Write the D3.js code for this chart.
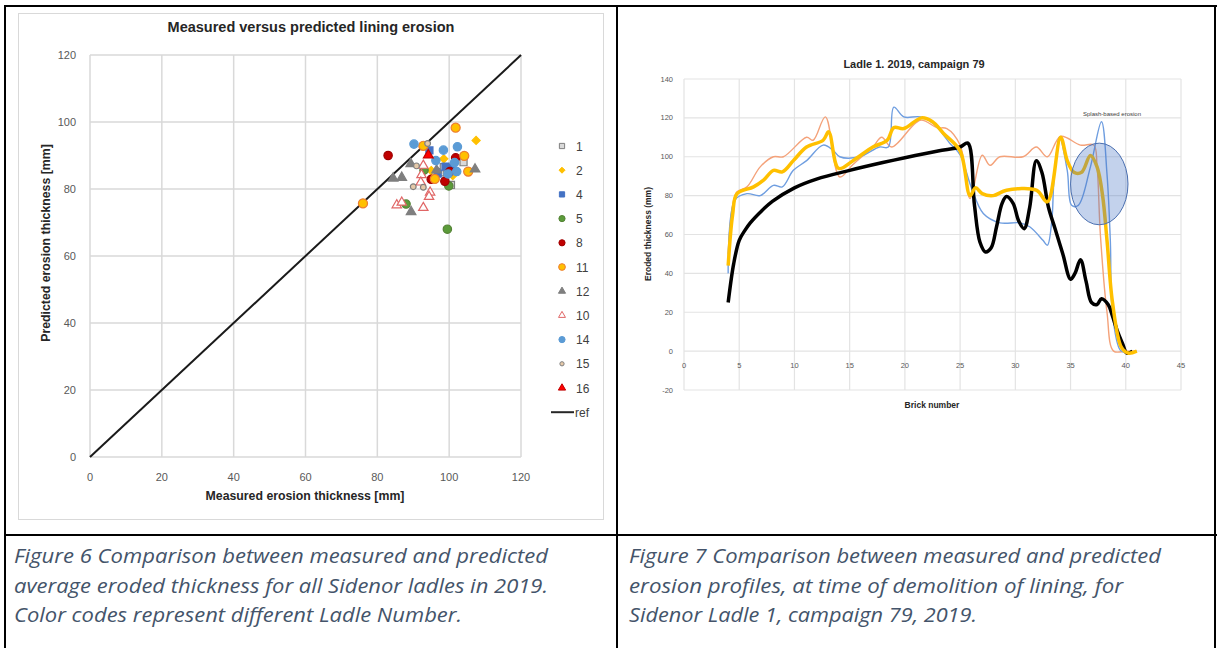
<!DOCTYPE html>
<html>
<head>
<meta charset="utf-8">
<script src="https://cdn.jsdelivr.net/npm/d3@7"></script>
<style>
  body { margin: 0; background: #fff; }
  svg { display: block; font-family: "Liberation Sans", Arial, sans-serif; }
</style>
</head>
<body>
<svg id="page" width="1217" height="648"></svg>
<script>
// ---- Figure 6 data: [measured, predicted] per ladle ----
const ladle1  = [[104, 88], [97.5, 85], [100.5, 81.2], [98.5, 86.5]];
const ladle2  = [[107.5, 94.5], [98.5, 89], [95, 85.5], [101, 84]];
const ladle4  = [[94.5, 91.5], [99, 86.7], [100.5, 86.2], [96.8, 84.6]];
const ladle5  = [[93, 85.6], [99.9, 80.9], [88, 75.5], [99.5, 68]];
const ladle8  = [[83, 90], [101.8, 89.3], [100.2, 85.2], [95, 82.9], [98.8, 82.3]];
const ladle11 = [[101.8, 98.3], [92.8, 92.9], [104.2, 89.9], [105.3, 85.2], [96, 83], [76, 75.7]];
const ladle12 = [[89.3, 87.5], [107.2, 85.9], [84.4, 83.2], [86.8, 83.4], [89.4, 73.2], [96.5, 85.6]];
const ladle10 = [[92.8, 87], [92.3, 84.2], [92.1, 82], [94.7, 79], [94.4, 77.7], [85.4, 75.2], [86.8, 76], [92.8, 74.4]];
const ladle14 = [[90.2, 93.4], [98.4, 91.6], [102.3, 92.6], [101.5, 87.9], [96.3, 88.5], [102.1, 85.2], [99.7, 84.5]];
const ladle15 = [[94, 93.6], [90.9, 86.9], [90, 80.7], [92.8, 80.5]];
const ladle16 = [[94.2, 90.1]];
const refLine = [[0, 0], [120, 120]];
const axisTicks6 = [0, 20, 40, 60, 80, 100, 120];

// ---- Figure 7 data: [brick number, eroded thickness mm] ----
const measuredBlack = [[4, 25], [4.5, 45], [5, 57], [5.5, 62], [6, 66], [7, 72], [8, 77], [10, 84], [12, 88.5],
  [15, 93], [18, 97], [20, 99.5], [23, 103], [25, 105], [25.7, 107], [26.3, 75], [26.8, 56], [27.3, 51],
  [27.8, 53], [28.3, 64], [28.8, 76], [29.2, 79.5], [29.8, 76], [30.3, 67], [30.8, 63], [31.3, 74],
  [31.9, 98], [32.4, 92], [33, 74], [33.6, 63], [34.3, 50], [35, 37], [35.4, 40], [35.9, 47], [36.4, 36],
  [36.9, 25], [37.4, 24], [37.8, 27], [38.4, 24], [38.8, 18], [39.2, 11], [39.7, 4], [40.1, -1], [40.6, 0]];
const predictedYellow = [[4, 44], [4.4, 70], [4.8, 81], [6.3, 84.5], [7.2, 88], [8.1, 93], [8.9, 92.2], [9.9, 98],
  [11.1, 105], [12.6, 108.5], [13.1, 112.8], [14, 94], [15.3, 98], [17.1, 105], [18.4, 108.5], [19, 115],
  [19.9, 114.5], [21.5, 120], [22.5, 118], [23.5, 112], [25, 103], [25.9, 80], [26.4, 84], [27, 81], [28, 80],
  [29.2, 82.8], [31.9, 82.8], [32.9, 76.8], [34.1, 110], [34.7, 98], [35.3, 92], [36, 92], [36.8, 100.7],
  [37.4, 94.8], [37.9, 80], [38.3, 57], [38.8, 25], [39.6, 2], [40.2, -1], [41, 0]];
const predictedOrange = [[4, 50], [4.4, 75], [4.8, 82], [5.7, 84.5], [6.9, 94.8], [8.1, 100], [9, 100], [11.1, 110],
  [11.7, 108.5], [12.8, 120.5], [14.1, 89.6], [15.3, 96], [17.1, 105], [17.9, 110], [18.8, 105], [21.4, 118.8],
  [22.9, 115], [23.8, 114.5], [25, 106], [25.9, 78.5], [27, 100.8], [27.7, 95.6], [28.6, 100], [30.7, 100],
  [31.9, 105], [32.9, 100], [34.1, 110.5], [35.9, 106], [37.1, 106], [37.4, 95], [37.7, 60], [38.3, 20],
  [38.9, 0], [40, 0], [41, 0]];
const predictedBlue = [[4, 40], [4.6, 77.6], [5.7, 81], [6.9, 80], [8.1, 85.3], [8.9, 84.5], [9.9, 93], [11.1, 98],
  [12.6, 106], [13.5, 103.3], [14.1, 100], [15.9, 100], [17.7, 105], [18.5, 105], [19, 125.5], [19.9, 120.5],
  [21.4, 120.5], [22.6, 117], [24.1, 106.7], [25, 101], [26, 84.5], [27.1, 70.8], [28.6, 66], [30.4, 66],
  [31.3, 64], [32.5, 57], [32.9, 54.5], [33.3, 67], [33.5, 88], [34, 110], [34.7, 93], [35.1, 75], [35.7, 75],
  [36.8, 94.8], [37.8, 118], [38.3, 91], [38.6, 57], [38.8, 19], [39.5, 0.5], [40.1, -1], [41, 0]];
const splashZone = { cx: 37.6, cy: 86, rx: 2.6, ry: 21 };
const xTicks7 = [0, 5, 10, 15, 20, 25, 30, 35, 40, 45];
const yTicks7 = [-20, 0, 20, 40, 60, 80, 100, 120, 140];

const captions6 = ["Figure 6 Comparison between measured and predicted",
  "average eroded thickness for all Sidenor ladles in 2019.",
  "Color codes represent different Ladle Number."];
const captions7 = ["Figure 7 Comparison between measured and predicted",
  "erosion profiles, at time of demolition of lining, for",
  "Sidenor Ladle 1, campaign 79, 2019."];

const svg = d3.select("#page");
svg.append("rect").attr("width", 1217).attr("height", 648).attr("fill", "#fff");

// ================= Figure 6 =================
svg.append("rect").attr("x", 18.5).attr("y", 13.5).attr("width", 585).attr("height", 506)
  .attr("fill", "#fff").attr("stroke", "#d9d9d9");

const x6 = d3.scaleLinear().domain([0, 120]).range([90, 521]);
const y6 = d3.scaleLinear().domain([0, 120]).range([457, 55]);
const g6 = svg.append("g");

g6.append("g").selectAll("line").data(axisTicks6).join("line")
  .attr("x1", d => x6(d)).attr("x2", d => x6(d)).attr("y1", y6(0)).attr("y2", y6(120))
  .attr("stroke", "#d9d9d9").attr("stroke-width", 1.5);
g6.append("g").selectAll("line").data(axisTicks6).join("line")
  .attr("x1", x6(0)).attr("x2", x6(120)).attr("y1", d => y6(d)).attr("y2", d => y6(d))
  .attr("stroke", "#d9d9d9").attr("stroke-width", 1.5);

g6.append("g").selectAll("text").data(axisTicks6).join("text")
  .attr("x", 76).attr("y", d => y6(d) + 4).attr("text-anchor", "end")
  .attr("font-size", 11).attr("fill", "#595959").text(d => d);
g6.append("g").selectAll("text").data(axisTicks6).join("text")
  .attr("x", d => x6(d)).attr("y", 481).attr("text-anchor", "middle")
  .attr("font-size", 11).attr("fill", "#595959").text(d => d);

g6.append("text").attr("x", 311).attr("y", 32).attr("text-anchor", "middle")
  .attr("font-size", 14.5).attr("font-weight", "bold").attr("fill", "#262626")
  .text("Measured versus predicted lining erosion");
g6.append("text").attr("x", 305).attr("y", 500).attr("text-anchor", "middle")
  .attr("font-size", 12.3).attr("font-weight", "bold").attr("fill", "#262626")
  .text("Measured erosion thickness [mm]");
g6.append("text").attr("transform", "translate(50,243) rotate(-90)").attr("text-anchor", "middle")
  .attr("font-size", 12.3).attr("font-weight", "bold").attr("fill", "#262626")
  .text("Predicted erosion thickness [mm]");

const line6 = d3.line().x(d => x6(d[0])).y(d => y6(d[1]));
g6.append("path").attr("d", line6(refLine)).attr("stroke", "#1a1a1a").attr("stroke-width", 2).attr("fill", "none");

const series6 = [
  { name: "1",  data: ladle1,  shape: d3.symbolSquare,   size: 50, fill: "#d9d9d9", stroke: "#7f7f7f" },
  { name: "2",  data: ladle2,  shape: d3.symbolDiamond2, size: 42, fill: "#ffc000", stroke: "#ffc000" },
  { name: "4",  data: ladle4,  shape: d3.symbolSquare,   size: 50, fill: "#4472c4", stroke: "#4472c4" },
  { name: "5",  data: ladle5,  shape: d3.symbolCircle,   size: 55, fill: "#5b9b3a", stroke: "#548235" },
  { name: "8",  data: ladle8,  shape: d3.symbolCircle,   size: 55, fill: "#c00000", stroke: "#a00000" },
  { name: "11", data: ladle11, shape: d3.symbolCircle,   size: 65, fill: "#ffc000", stroke: "#ed7d31" },
  { name: "12", data: ladle12, shape: d3.symbolTriangle, size: 40, fill: "#7f7f7f", stroke: "#7f7f7f" },
  { name: "10", data: ladle10, shape: d3.symbolTriangle, size: 38, fill: "#fff", stroke: "#e06666" },
  { name: "14", data: ladle14, shape: d3.symbolCircle,   size: 55, fill: "#5b9bd5", stroke: "#5b9bd5" },
  { name: "15", data: ladle15, shape: d3.symbolCircle,   size: 26, fill: "#e6c9a8", stroke: "#7f7f7f" },
  { name: "16", data: ladle16, shape: d3.symbolTriangle, size: 42, fill: "#ff0000", stroke: "#c00000" }
];

series6.forEach(s => {
  g6.append("g").selectAll("path").data(s.data).join("path")
    .attr("transform", d => `translate(${x6(d[0])},${y6(d[1])})`)
    .attr("d", d3.symbol().type(s.shape).size(s.size))
    .attr("fill", s.fill).attr("stroke", s.stroke).attr("stroke-width", 1.2);
});

// legend
const leg = g6.append("g").attr("transform", "translate(0,146)");
series6.forEach((s, i) => {
  const row = leg.append("g").attr("transform", `translate(0,${i * 24.2})`);
  row.append("path").attr("transform", "translate(562,0)")
    .attr("d", d3.symbol().type(s.shape).size(s.size * 0.55))
    .attr("fill", s.fill).attr("stroke", s.stroke).attr("stroke-width", 1);
  row.append("text").attr("x", 576).attr("y", 4.5).attr("font-size", 12).attr("fill", "#404040").text(s.name);
});
const refRow = leg.append("g").attr("transform", `translate(0,${series6.length * 24.2})`);
refRow.append("line").attr("x1", 551).attr("x2", 574).attr("stroke", "#262626").attr("stroke-width", 2);
refRow.append("text").attr("x", 575).attr("y", 4.5).attr("font-size", 12).attr("fill", "#404040").text("ref");

// ================= Figure 7 =================
const x7 = d3.scaleLinear().domain([0, 45]).range([684, 1181]);
const y7 = d3.scaleLinear().domain([-20, 140]).range([390, 79]);
const g7 = svg.append("g");

g7.append("g").selectAll("line").data(xTicks7).join("line")
  .attr("x1", d => x7(d)).attr("x2", d => x7(d)).attr("y1", y7(-20)).attr("y2", y7(140))
  .attr("stroke", "#e3e3e3").attr("stroke-width", 1.2);
g7.append("g").selectAll("line").data(yTicks7).join("line")
  .attr("x1", x7(0)).attr("x2", x7(45)).attr("y1", d => y7(d)).attr("y2", d => y7(d))
  .attr("stroke", "#e3e3e3").attr("stroke-width", 1.2);

g7.append("g").selectAll("text").data(yTicks7).join("text")
  .attr("x", 673).attr("y", d => y7(d) + 2.5).attr("text-anchor", "end")
  .attr("font-size", 7.5).attr("fill", "#595959").text(d => d);
g7.append("g").selectAll("text").data(xTicks7).join("text")
  .attr("x", d => x7(d)).attr("y", y7(0) + 17).attr("text-anchor", "middle")
  .attr("font-size", 7.5).attr("fill", "#595959").text(d => d);

g7.append("text").attr("x", 914).attr("y", 68).attr("text-anchor", "middle")
  .attr("font-size", 11).attr("font-weight", "bold").attr("fill", "#262626")
  .text("Ladle 1. 2019, campaign 79");
g7.append("text").attr("x", 932).attr("y", 408).attr("text-anchor", "middle")
  .attr("font-size", 8.5).attr("font-weight", "bold").attr("fill", "#262626").text("Brick number");
g7.append("text").attr("transform", "translate(651,234) rotate(-90)").attr("text-anchor", "middle")
  .attr("font-size", 8.5).attr("font-weight", "bold").attr("fill", "#262626").text("Eroded thickness (mm)");

const line7 = d3.line().x(d => x7(d[0])).y(d => y7(d[1])).curve(d3.curveCatmullRom.alpha(0.5));
const series7 = [
  { data: predictedOrange, color: "#f4a27a", width: 1.4 },
  { data: predictedBlue,   color: "#6f9ee0", width: 1.4 },
  { data: measuredBlack,   color: "#000000", width: 3.5 },
  { data: predictedYellow, color: "#ffc000", width: 3.5 }
];
series7.forEach(s => {
  g7.append("path").attr("d", line7(s.data)).attr("fill", "none")
    .attr("stroke", s.color).attr("stroke-width", s.width).attr("stroke-linejoin", "round");
});

g7.append("ellipse")
  .attr("cx", x7(splashZone.cx)).attr("cy", y7(splashZone.cy))
  .attr("rx", x7(splashZone.rx) - x7(0)).attr("ry", y7(0) - y7(splashZone.ry))
  .attr("fill", "rgba(68,114,196,0.32)").attr("stroke", "#4a6fb0").attr("stroke-width", 1);
g7.append("text").attr("x", 1112).attr("y", 116).attr("text-anchor", "middle")
  .attr("font-size", 6).attr("fill", "#404040").text("Splash-based erosion");

// ================= table & captions =================
const tbl = svg.append("g").attr("stroke", "#000").attr("stroke-width", 2).attr("fill", "none");
tbl.append("line").attr("x1", 5).attr("x2", 1217).attr("y1", 6).attr("y2", 6);
tbl.append("line").attr("x1", 5).attr("x2", 1217).attr("y1", 535).attr("y2", 535);
tbl.append("line").attr("x1", 5).attr("x2", 5).attr("y1", 5).attr("y2", 648);
tbl.append("line").attr("x1", 617).attr("x2", 617).attr("y1", 5).attr("y2", 648);
tbl.append("line").attr("x1", 1215).attr("x2", 1215).attr("y1", 5).attr("y2", 648);

const capWidths6 = [534, 534, 448];
const capWidths7 = [532, 494, 348];
[[captions6, capWidths6, 14], [captions7, capWidths7, 629]].forEach(([lines, widths, x0]) => {
  svg.append("g").selectAll("text").data(lines).join("text")
    .attr("x", x0).attr("y", (d, i) => 563 + i * 29.5)
    .attr("font-family", "'Open Sans', sans-serif").attr("font-style", "italic")
    .attr("font-size", 20).attr("fill", "#44546a")
    .attr("textLength", (d, i) => widths[i]).attr("lengthAdjust", "spacingAndGlyphs")
    .text(d => d);
});
</script>
</body>
</html>
